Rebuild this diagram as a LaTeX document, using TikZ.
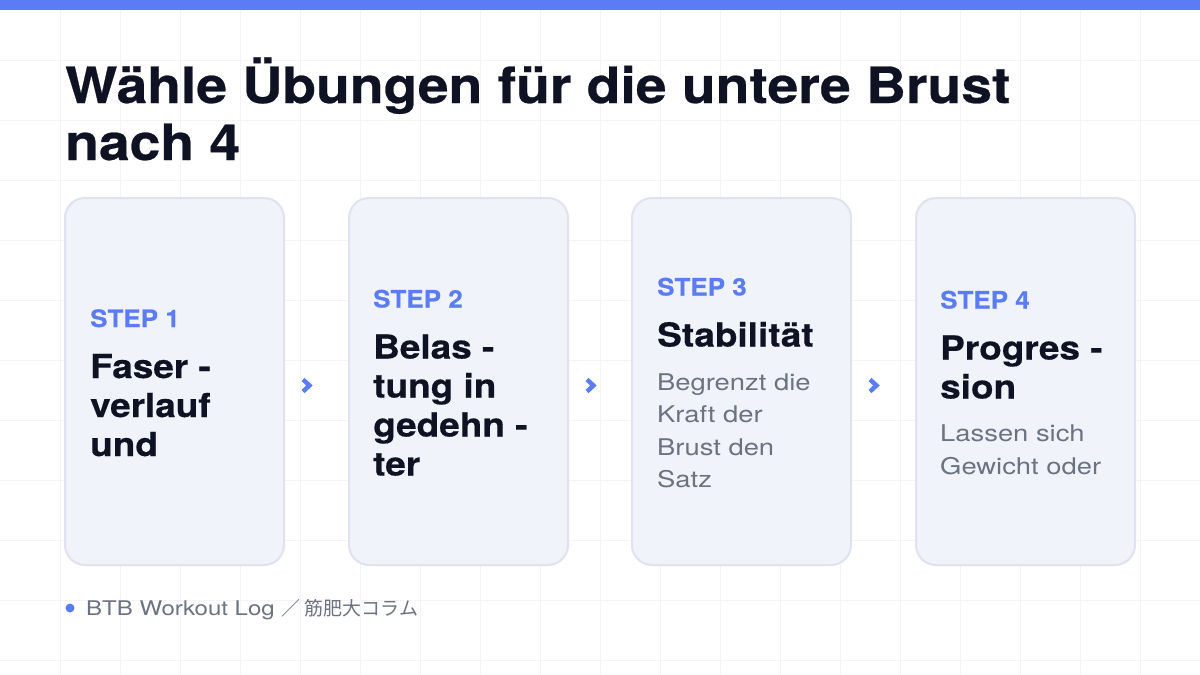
\documentclass[tikz,border=0pt]{standalone}
\usepackage{fontspec}
\setmainfont{TeX Gyre Heros}
\newfontfamily\cjk{Noto Sans CJK JP}
\newfontfamily\ftitle[FakeStretch=1.105,FakeBold=0.5]{TeX Gyre Heros}
\newfontfamily\fhead[FakeStretch=1.12,FakeBold=0.4]{TeX Gyre Heros}
\newfontfamily\fstep[FakeStretch=1.085,FakeBold=0.3]{TeX Gyre Heros}
\newfontfamily\fbody[FakeStretch=1.19]{TeX Gyre Heros}
\definecolor{accent}{HTML}{5B7CF5}
\definecolor{ink}{HTML}{0F1222}
\definecolor{muted}{HTML}{6B7280}
\definecolor{cardfill}{HTML}{F1F3FB}
\definecolor{cardline}{HTML}{E0E3EE}
\definecolor{gridc}{HTML}{F3F4F7}
\tikzset{
  card/.style={draw=cardline, line width=2pt, fill=cardfill, rounded corners=20pt,
    minimum width=219pt, minimum height=367pt, inner sep=0pt},
  titletext/.style={anchor=base west, inner sep=0pt, text=ink, font=\ftitle\fontsize{50}{57}\selectfont\bfseries},
  steplbl/.style={anchor=base west, inner sep=0pt, text=accent, font=\fstep\fontsize{24}{28}\selectfont\bfseries},
  headline/.style={anchor=base west, inner sep=0pt, text=ink, font=\fhead\fontsize{33}{39}\selectfont\bfseries},
  bodytext/.style={anchor=base west, inner sep=0pt, text=muted, font=\fbody\fontsize{23}{32}\selectfont},
  chev/.style={draw=accent, line width=4.4pt, line join=miter, line cap=butt},
  foot/.style={anchor=base west, inner sep=0pt, text=muted, font=\fbody\fontsize{20.2}{24}\selectfont}
}
\begin{document}
\begin{tikzpicture}[x=1pt,y=-1pt]
\useasboundingbox (0,0) rectangle (1200,675);
\fill[white] (0,0) rectangle (1200,675);
% grid
\foreach \gx in {60,120,...,1140} \draw[gridc, line width=1pt] (\gx,0) -- (\gx,675);
\foreach \gy in {60,120,...,660} \draw[gridc, line width=1pt] (0,\gy) -- (1200,\gy);
% top bar
\fill[accent] (0,0) rectangle (1200,9.5);
% title
\node[titletext] (t1) at (65,103) {Wähle Übungen für die untere Brust};
\node[titletext] (t2) at (65,160) {nach 4};
% cards
\node[card] (c1) at (174.5,381.5) {};
\node[card] (c2) at (458.5,381.5) {};
\node[card] (c3) at (741.5,381.5) {};
\node[card] (c4) at (1025.5,381.5) {};
% card 1
\node[steplbl] (s1) at (90,327) {STEP 1};
\node[headline] (h1a) at (90,378) {Faser -};
\node[headline] (h1b) at (90,417) {verlauf};
\node[headline] (h1c) at (90,456) {und};
% card 2
\node[steplbl] (s2) at (373,307.5) {STEP 2};
\node[headline] (h2a) at (373,358.5) {Belas -};
\node[headline] (h2b) at (373,397.5) {tung in};
\node[headline] (h2c) at (373,436.5) {gedehn -};
\node[headline] (h2d) at (373,475.5) {ter};
% card 3
\node[steplbl] (s3) at (657,295.5) {STEP 3};
\node[headline] (h3a) at (657,346.5) {Stabilität};
\node[bodytext] (b3a) at (657,390) {Begrenzt die};
\node[bodytext] (b3b) at (657,422.5) {Kraft der};
\node[bodytext] (b3c) at (657,455) {Brust den};
\node[bodytext] (b3d) at (657,487.5) {Satz};
% card 4
\node[steplbl] (s4) at (940,308.5) {STEP 4};
\node[headline] (h4a) at (940,359.5) {Progres -};
\node[headline] (h4b) at (940,398.5) {sion};
\node[bodytext] (b4a) at (940,441.5) {Lassen sich};
\node[bodytext] (b4b) at (940,474) {Gewicht oder};
% chevrons
\coordinate (a1) at ([xshift=22pt,yshift=-4pt]c1.east);
\coordinate (a2) at ([xshift=22pt,yshift=-4pt]c2.east);
\coordinate (a3) at ([xshift=22pt,yshift=-4pt]c3.east);
\foreach \a in {a1,a2,a3}
  \draw[chev] ([shift={(-4,-6)}]\a) -- ([shift={(2.5,0)}]\a) -- ([shift={(-4,6)}]\a);
% footer
\fill[accent] (70,608) circle (4.5);
\node[foot] (f1) at (86,615) {BTB Workout Log {\cjk\fontsize{19}{24}\selectfont ／ 筋肥大コラム}};
\end{tikzpicture}
\end{document}
